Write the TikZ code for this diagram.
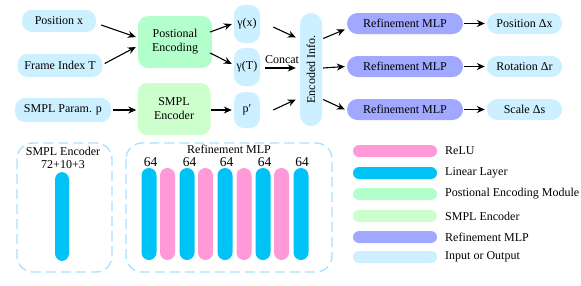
\documentclass[tikz,border=0pt]{standalone}
\usepackage{fontspec}
\setmainfont{Liberation Serif}
\usetikzlibrary{arrows.meta,calc}
\definecolor{relucol}{HTML}{FF99D8}
\definecolor{lincol}{HTML}{00C3F5}
\definecolor{pecol}{HTML}{B3FFCC}
\definecolor{smplcol}{HTML}{CCFFCC}
\definecolor{mlpcol}{HTML}{A0A8FF}
\definecolor{iocol}{HTML}{CCF0FF}
\definecolor{dashcol}{HTML}{A8E4FF}
\tikzset{
  box/.style={draw=none, align=center, inner sep=0pt},
  io/.style={box, fill=iocol, rounded corners=10pt},
  pebox/.style={box, fill=pecol, rounded corners=10pt, minimum width=74pt, minimum height=52pt},
  smplbox/.style={box, fill=smplcol, rounded corners=10pt, minimum width=73pt, minimum height=52pt},
  mlpbox/.style={box, fill=mlpcol, rounded corners=10.5pt, minimum width=116pt, minimum height=21pt},
  outbox/.style={io, rounded corners=10.5pt, minimum width=75pt, minimum height=21pt},
  gbox/.style={io, minimum width=26pt, minimum height=38pt},
  arr/.style={-{Stealth[length=8pt,width=7pt]}, line width=1.1pt},
  dbox/.style={draw=dashcol, dash pattern=on 10pt off 5pt, line width=1.4pt, rounded corners=16pt},
  bar/.style={rounded corners=7.5pt},
  lbar/.style={rounded corners=6pt},
  small/.style={font=\fontsize{12}{13}\selectfont},
  big/.style={font=\fontsize{13.5}{14}\selectfont, inner sep=0pt},
}
\begin{document}
\begin{tikzpicture}[x=1pt,y=-1pt,font=\fontsize{12}{14}\selectfont]
\useasboundingbox (0,0) rectangle (581,285);
% inputs
\node[io, minimum width=74pt, minimum height=22pt] (pos) at (59,21) {Position x};
\node[io, minimum width=85pt, minimum height=23pt] (frm) at (60,65.5) {Frame Index T};
\node[io, minimum width=96pt, minimum height=24pt] (smp) at (63,110) {SMPL Param. p};
% modules
\node[pebox] (pe) at (175,42) {Postional\\Encoding};
\node[smplbox] (se) at (174,109) {SMPL\\Encoder};
% encodings
\node[gbox] (gx) at (247,24) {γ(x)};
\node[gbox] (gt) at (247,67) {γ(T)};
\node[gbox, minimum height=36pt] (pp) at (247,110) {p′};
% encoded
\node[io, minimum width=22pt, minimum height=113pt, rounded corners=11pt] (enc) at (311,69.5) {};
\node[rotate=90] at (enc.center) {Encoded Info.};
% mlps
\node[mlpbox] (m1) at (405,23.5) {Refinement MLP};
\node[mlpbox] (m2) at (405,66.5) {Refinement MLP};
\node[mlpbox] (m3) at (405,109.5) {Refinement MLP};
\node[outbox] (o1) at (524.5,23.5) {Position Δx};
\node[outbox] (o2) at (524.5,66.5) {Rotation Δr};
\node[outbox] (o3) at (524.5,109.5) {Scale Δs};
% arrows
\draw[arr] ($(pos.east)+(5,4)$) -- ($(pe.west)+(-2,-5)$);
\draw[arr] ($(frm.east)+(2,-2)$) -- ($(pe.west)+(-2,5)$);
\draw[arr] ($(pe.east)+(-2,-10)$) -- ($(gx.west)+(-2,0)$);
\draw[arr] ($(pe.east)+(-2,11)$) -- ($(gt.west)+(-2,-3)$);
\draw[arr] ($(smp.east)+(2,0)$) -- ($(se.west)+(-1,1)$);
\draw[arr] ($(se.east)+(0,1)$) -- ($(pp.west)+(-2,0)$);
\draw[arr] ($(gx.east)+(13,3)$) -- ($(enc.west)+(-4,-32)$);
\draw[arr] ($(gt.east)+(5,1)$) -- node[above=1pt, pos=0.55] {Concat} ($(enc.west)+(-4,-1.5)$);
\draw[arr] ($(pp.east)+(13,0)$) -- ($(enc.west)+(-4,30)$);
\draw[arr] ($(enc.east)+(1,-31)$) -- ($(m1.west)+(-2,6)$);
\draw[arr] ($(enc.east)+(1,-1.5)$) -- ($(m2.west)+(-2,0)$);
\draw[arr] ($(enc.east)+(1,30)$) -- ($(m3.west)+(-2,0)$);
\draw[arr] ($(m1.east)+(1,0)$) -- ($(o1.west)+(-2,0)$);
\draw[arr] ($(m2.east)+(1,0)$) -- ($(o2.west)+(-2,0)$);
\draw[arr] ($(m3.east)+(1,0)$) -- ($(o3.west)+(-2,0)$);
% bottom left dashed box
\draw[dbox] (17,143) rectangle (112,272);
\node[small, align=center] (setitle) at (63,157.5) {SMPL Encoder\\72+10+3};
\fill[lincol, bar] (55,172) rectangle (69,261);
% bottom MLP dashed box
\draw[dbox] (126,143) rectangle (332,272);
\node[small, inner sep=0pt] (mlptitle) at (229,149.5) {Refinement MLP};
\foreach \x/\c in {149/lincol,167.5/relucol,187/lincol,205.5/relucol,225/lincol,244/relucol,263/lincol,281.5/relucol,301/lincol}{
  \fill[\c, bar] (\x-7.5,168) rectangle (\x+7.5,260);
}
\foreach \x in {150.5,189.5,226.5,264.5,302}{
  \node[big] at (\x,162.5) {64};
}
% legend
\foreach \y/\c/\t in {151/relucol/ReLU,173/lincol/Linear Layer,194/pecol/Postional Encoding Module,216/smplcol/SMPL Encoder,237/mlpcol/Refinement MLP,257/iocol/Input or Output}{
  \fill[\c, lbar] (353,\y-6) rectangle (437,\y+6);
  \node[small, anchor=west, inner sep=0pt] at (445,\y) {\t};
}
\end{tikzpicture}
\end{document}
